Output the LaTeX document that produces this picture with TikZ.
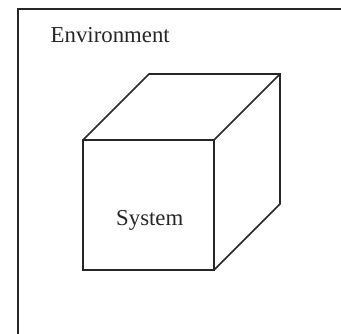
\documentclass[tikz,border=0pt]{standalone}
\usepackage{fontspec}
\setmainfont{Liberation Serif}
\usepackage{tikz}
\usetikzlibrary{positioning,calc}

\begin{document}
\begin{tikzpicture}[
    x=1pt, y=-1pt,
    edge/.style={draw=black!85, line width=1.7pt, line join=miter},
    label/.style={inner sep=0pt, font=\fontsize{22.8}{27}\selectfont, text=black!85}
]
\useasboundingbox (0,0) rectangle (341,333);
\clip (0,0) rectangle (341,333);

% environment frame, runs off the page at right and bottom
\coordinate (envnw) at (18,9);
\coordinate (envse) at (360,360);
\draw[edge] (envnw) rectangle (envse);
\node[label, anchor=base west] (env) at (50.5,42) {Environment};

% cube: front face and depth
\coordinate (fnw) at (83,140);
\coordinate (fne) at (214,140);
\coordinate (fse) at (214,270);
\coordinate (fsw) at (83,270);
\coordinate (bnw) at (149,74);
\coordinate (bne) at (280,74);
\coordinate (bse) at (280,204);

\draw[edge] (fnw) -- (fne) -- (fse) -- (fsw) -- cycle;
\draw[edge] (fnw) -- (bnw) -- (bne) -- (bse) -- (fse);
\draw[edge] (fne) -- (bne);

\node[label, anchor=base west] (sys) at (116,225) {System};

\end{tikzpicture}
\end{document}
